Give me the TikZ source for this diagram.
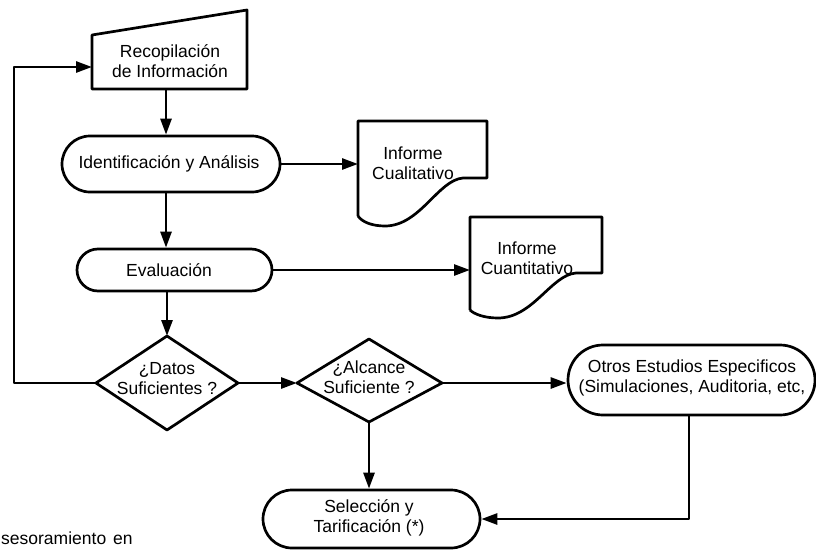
\documentclass[tikz,border=0pt]{standalone}
\usepackage{fontspec}
\setmainfont{Liberation Sans}
\usetikzlibrary{arrows.meta,calc}
\begin{document}
\begin{tikzpicture}[x=1pt,y=1pt,
  every node/.style={font=\fontsize{17.5}{20}\selectfont, align=center, inner sep=0pt},
  ln/.style={line width=2.7pt, line join=round},
  arr/.style={ln, -{Triangle[length=16pt,width=11pt]}},
  stad/.style={ln, draw, rectangle, rounded corners=#1},
  lbl/.style={}
]
\useasboundingbox (0,0) rectangle (816,-549);

% Recopilacion (manual input)
\draw[ln] (92,-35) -- (247,-10) -- (247,-89) -- (92,-89) -- cycle;
\node[lbl] (rec) at (170,-61) {Recopilación\\de Información};
\coordinate (recS) at (166,-89);
\coordinate (recW) at (92,-67);

% Identificacion
\node[stad=28, minimum width=218, minimum height=56] (ident) at (171,-164) {};
\node[lbl] (identT) at (169,-164) {Identificación y Análisis};

% Informe Cualitativo
\draw[ln] (358,-216) -- (358,-121) -- (487,-121) -- (487,-178) -- (463,-178)
  .. controls (438,-180) and (420,-226) .. (385,-226)
  .. controls (372,-226) and (362,-222) .. (358,-216);
\coordinate (cualL) at (358,-121);
\node[lbl] (cual) at (413,-163) {Informe\\Cualitativo};

% Evaluacion
\node[stad=21, minimum width=195, minimum height=42] (eval) at (174.5,-270) {};
\node[lbl] (evalT) at (169,-270) {Evaluación};

% Informe Cuantitativo
\draw[ln] (470,-310) -- (470,-217) -- (602,-217) -- (602,-273) -- (576,-273)
  .. controls (551,-275) and (533,-318) .. (498,-318)
  .. controls (484,-318) and (474,-314) .. (470,-310);
\coordinate (cuanL) at (470,-217);
\node[lbl] (cuan) at (527,-258) {Informe\\Cuantitativo};

% Datos diamond
\draw[ln] (96,-383) -- (167,-336) -- (238,-383) -- (167,-430) -- cycle;
\coordinate (datW) at (96,-383);
\coordinate (datE) at (238,-383);
\coordinate (datN) at (167,-336);
\node[lbl] (dat) at (167,-379) {¿Datos\\Suficientes ?};

% Alcance diamond
\draw[ln] (297,-383) -- (369,-339) -- (442,-383) -- (369,-422) -- cycle;
\coordinate (alcW) at (297,-383);
\coordinate (alcE) at (442,-383);
\coordinate (alcS) at (369,-422);
\node[lbl] (alc) at (369,-377) {¿Alcance\\Suficiente ?};

% Otros estudios
\node[stad=35, minimum width=247, minimum height=70] (otros) at (691.5,-380) {};
\node[lbl] (otrosT) at (692,-378) {Otros Estudios Especificos\\(Simulaciones, Auditoria, etc,};

% Seleccion
\node[stad=29, minimum width=217, minimum height=58] (sel) at (371.5,-519) {};
\node[lbl] (selT) at (369,-518) {Selección y\\Tarificación (*)};

% footer text
\node[anchor=base west] (foot) at (1,-544) {sesoramiento\hspace{7pt}en};

% connectors
\draw[arr] (recS) -- (recS |- ident.north);
\draw[arr] (ident.east) -- (ident.east -| cualL);
\draw[arr] (ident.south -| recS) -- (eval.north -| recS);
\draw[arr] (eval.east) -- (eval.east -| cuanL);
\draw[arr] (eval.south -| datN) -- (datN);
\draw[arr] (datE) -- (alcW);
\coordinate (loopB) at (14,-383);
\draw[arr] (datW) -- (loopB) -- (loopB |- recW) -- (recW);
\draw[arr] (alcE) -- (alcE -| otros.west);
\draw[arr] (alcS) -- (alcS |- sel.north);
\coordinate (otrosS) at (689,-415);
\draw[arr] (otrosS) -- (otrosS |- sel.east) -- (sel.east);
\end{tikzpicture}
\end{document}
